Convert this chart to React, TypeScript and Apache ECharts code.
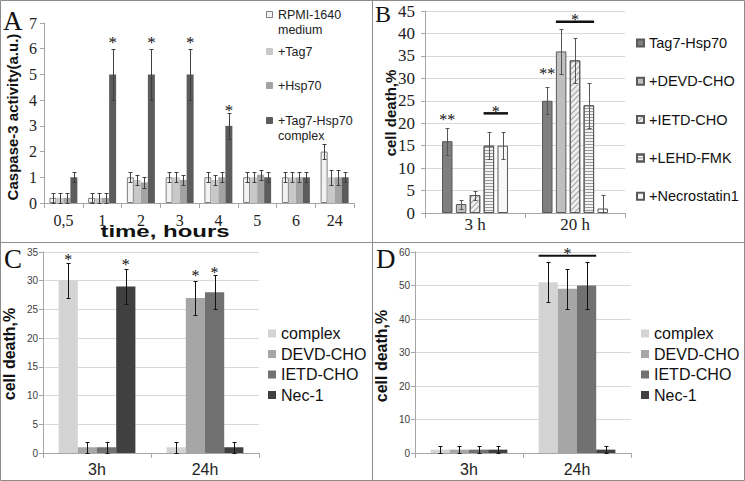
import React, { useEffect, useRef } from "react";
import * as echarts from "echarts";

const SERIF = "'Liberation Serif', 'Times New Roman', serif";
const SANS = "'Liberation Sans', Arial, sans-serif";

// ---------- Panel A ----------
const aCategories = ["0,5", "1", "2", "3", "4", "5", "6", "24"];
const aNames = ["RPMI-1640 medium", "+Tag7", "+Hsp70", "+Tag7-Hsp70 complex"];
const aLegendLines = [["RPMI-1640", "medium"], ["+Tag7"], ["+Hsp70"], ["+Tag7-Hsp70", "complex"]];
const aRPMI = [0.2, 0.2, 1, 1, 1, 1, 1, 2];
const aTag7 = [0.2, 0.2, 0.9, 1, 0.9, 1, 1, 1];
const aHsp70 = [0.2, 0.2, 0.8, 0.9, 1, 1.1, 1, 1];
const aComplex = [1, 5, 5, 5, 3, 1, 1, 1];
const aErrRPMI = [0.2, 0.2, 0.2, 0.2, 0.2, 0.2, 0.2, 0.3];
const aErrTag7 = [0.2, 0.2, 0.2, 0.2, 0.2, 0.2, 0.2, 0.3];
const aErrHsp70 = [0.2, 0.2, 0.2, 0.2, 0.2, 0.2, 0.2, 0.3];
const aErrComplex = [0.2, 1, 1, 1, 0.5, 0.2, 0.2, 0.2];
const aMarkCats = [1, 2, 3, 4];
const aMarkSeries = [3, 3, 3, 3];
const aMarkValues = [6.34, 6.34, 6.34, 3.73];
const aMarkTexts = ["*", "*", "*", "*"];

// ---------- Panel B ----------
const bCategories = ["3 h", "20 h"];
const bNames = ["Tag7-Hsp70", "+DEVD-CHO", "+IETD-CHO", "+LEHD-FMK", "+Necrostatin1"];
const bTag7Hsp70 = [16, 25];
const bDEVD = [2, 36];
const bIETD = [4, 34];
const bLEHD = [15, 24];
const bNecrostatin = [15, 1];
const bErrTag7Hsp70 = [3, 3];
const bErrDEVD = [1, 5];
const bErrIETD = [1, 5];
const bErrLEHD = [3, 5];
const bErrNecrostatin = [3, 3];
const bMarkCats = [0, 0, 1, 1];
const bMarkFrom = [0, 3, 0, 1];
const bMarkTo = [0, 4, 0, 3];
const bMarkValues = [21.4, 22.2, 31.7, 42.6];
const bMarkTexts = ["**", "*", "**", "*"];

// ---------- Panel C ----------
const cdCategories = ["3h", "24h"];
const cdNames = ["complex", "DEVD-CHO", "IETD-CHO", "Nec-1"];
const cComplex = [30, 1];
const cDEVD = [1, 27];
const cIETD = [1, 28];
const cNec1 = [29, 1];
const cErrComplex = [3, 1];
const cErrDEVD = [1, 3];
const cErrIETD = [1, 3];
const cErrNec1 = [3, 1];
const cMarkCats = [0, 0, 1, 1];
const cMarkSeries = [0, 3, 1, 2];
const cMarkValues = [34.25, 33.4, 31.5, 32.0];

// ---------- Panel D ----------
const dComplex = [1, 51];
const dDEVD = [1, 49];
const dIETD = [1, 50];
const dNec1 = [1, 1];
const dErrComplex = [1, 6];
const dErrDEVD = [1, 6];
const dErrIETD = [1, 7];
const dErrNec1 = [1, 1];
const dMarkCats = [1];
const dMarkFrom = [0];
const dMarkTo = [2];
const dMarkValues = [58.9];

// ---------- helpers ----------
function offsetOf(i: number, n: number, barW: number, gap: number) {
  return (i - (n - 1) / 2) * barW * (1 + gap);
}

function errorSeries(values: number[][], errors: number[][], barW: number, gap: number, axis: number, color: string, capW: number) {
  const n = values.length;
  const data: number[][] = [];
  values.forEach((vals, i) =>
    vals.forEach((v, j) => {
      const e = errors[i][j];
      data.push([j, Math.max(0, v - e), v + e, i, v - e < 0 ? 1 : 0]);
    })
  );
  return {
    type: "custom",
    xAxisIndex: axis,
    yAxisIndex: axis,
    silent: true,
    z: 5,
    itemStyle: { color },
    renderItem: (params: any, api: any) => {
      const j = api.value(0);
      const lo = api.value(1);
      const hi = api.value(2);
      const i = api.value(3);
      const clipped = api.value(4);
      const x = Math.round(api.coord([j, 0])[0] + offsetOf(i, n, barW, gap)) + 0.5;
      const y1 = Math.round(api.coord([j, lo])[1]) + 0.5;
      const y2 = Math.round(api.coord([j, hi])[1]) + 0.5;
      const style = { stroke: color, lineWidth: 1 };
      const children: any[] = [
        { type: "line", shape: { x1: x, y1, x2: x, y2 }, style },
        { type: "line", shape: { x1: x - capW / 2, y1: y2, x2: x + capW / 2, y2 }, style },
      ];
      if (!clipped) children.push({ type: "line", shape: { x1: x - capW / 2, y1, x2: x + capW / 2, y2: y1 }, style });
      return { type: "group", children };
    },
    data,
  };
}

function markSeries(cats: number[], from: number[], to: number[], vals: number[], texts: string[], n: number, barW: number, gap: number, axis: number, fontSize: number, lineW: number) {
  const data = cats.map((c, k) => [c, vals[k], from[k], to[k]]);
  return {
    type: "custom",
    xAxisIndex: axis,
    yAxisIndex: axis,
    silent: true,
    z: 6,
    itemStyle: { color: "#111111" },
    renderItem: (params: any, api: any) => {
      const k = params.dataIndex;
      const j = api.value(0);
      const v = api.value(1);
      const f = api.value(2);
      const t = api.value(3);
      const p = api.coord([j, v]);
      const xf = p[0] + offsetOf(f, n, barW, gap);
      const xt = p[0] + offsetOf(t, n, barW, gap);
      const textStyle = { text: texts[k], fontFamily: SERIF, fontSize, fill: "#111111", align: "center", verticalAlign: "middle" };
      if (f === t) {
        return { type: "text", x: xf, y: p[1] + 3, style: textStyle };
      }
      return {
        type: "group",
        children: [
          { type: "line", shape: { x1: xf - barW / 2, y1: p[1], x2: xt + barW / 2, y2: p[1] }, style: { stroke: "#111111", lineWidth: lineW } },
          { type: "text", x: (xf + xt) / 2, y: p[1] - 2, style: textStyle },
        ],
      };
    },
    data,
  };
}

const A_BW = 7, A_GAP = 0;
const B_BW = 10.5, B_GAP = 0.32;
const C_BW = 19.2, C_GAP = 0;

const aColors = ["#f2f2f2", "#c8c8c8", "#a3a3a3", "#5c5c5c"];
const bColors = ["#7f7f7f", "#bfbfbf", "#eeeeee", "#f2f2f2", "#f7f7f7"];
const cdColors = ["#d4d4d4", "#a6a6a6", "#717171", "#404040"];

export default function App() {
  const ref = useRef<HTMLDivElement>(null);
  useEffect(() => {
    if (!ref.current) return;
    const chart = echarts.init(ref.current, undefined, { renderer: "svg" });

    const aValues = [aRPMI, aTag7, aHsp70, aComplex];
    const aErrors = [aErrRPMI, aErrTag7, aErrHsp70, aErrComplex];
    const bValues = [bTag7Hsp70, bDEVD, bIETD, bLEHD, bNecrostatin];
    const bErrors = [bErrTag7Hsp70, bErrDEVD, bErrIETD, bErrLEHD, bErrNecrostatin];
    const cValues = [cComplex, cDEVD, cIETD, cNec1];
    const cErrors = [cErrComplex, cErrDEVD, cErrIETD, cErrNec1];
    const dValues = [dComplex, dDEVD, dIETD, dNec1];
    const dErrors = [dErrComplex, dErrDEVD, dErrIETD, dErrNec1];

    const bDecals: any[] = [
      undefined,
      undefined,
      { symbol: "rect", symbolSize: 1, color: "#a0a0a0", dashArrayX: [1, 0], dashArrayY: [1, 3], rotation: -Math.PI / 4 },
      { symbol: "rect", symbolSize: 1, color: "#9a9a9a", dashArrayX: [1, 0], dashArrayY: [1, 2], rotation: 0 },
      undefined,
    ];

    const series: any[] = [];
    aValues.forEach((vals, i) =>
      series.push({
        type: "bar", name: aNames[i], xAxisIndex: 0, yAxisIndex: 0, data: vals,
        barWidth: A_BW, barGap: "0%",
        itemStyle: { color: aColors[i], borderColor: i === 0 ? "#7f7f7f" : aColors[i], borderWidth: i === 0 ? 1 : 0 },
      })
    );
    bValues.forEach((vals, i) =>
      series.push({
        type: "bar", name: bNames[i], xAxisIndex: 1, yAxisIndex: 1, data: vals,
        barWidth: B_BW, barGap: "32%",
        itemStyle: { color: bColors[i], borderColor: "#595959", borderWidth: 1, decal: bDecals[i] },
      })
    );
    cValues.forEach((vals, i) =>
      series.push({
        type: "bar", name: cdNames[i], xAxisIndex: 2, yAxisIndex: 2, data: vals,
        barWidth: C_BW, barGap: "0%", itemStyle: { color: cdColors[i] },
      })
    );
    dValues.forEach((vals, i) =>
      series.push({
        type: "bar", name: cdNames[i], xAxisIndex: 3, yAxisIndex: 3, data: vals,
        barWidth: C_BW, barGap: "0%", itemStyle: { color: cdColors[i] },
      })
    );
    series.push(errorSeries(aValues, aErrors, A_BW, A_GAP, 0, "#404040", 4));
    series.push(errorSeries(bValues, bErrors, B_BW, B_GAP, 1, "#555555", 4));
    series.push(errorSeries(cValues, cErrors, C_BW, C_GAP, 2, "#111111", 4));
    series.push(errorSeries(dValues, dErrors, C_BW, C_GAP, 3, "#111111", 4));
    series.push(markSeries(aMarkCats, aMarkSeries, aMarkSeries, aMarkValues, aMarkTexts, 4, A_BW, A_GAP, 0, 17, 2));
    series.push(markSeries(bMarkCats, bMarkFrom, bMarkTo, bMarkValues, bMarkTexts, 5, B_BW, B_GAP, 1, 16, 2.5));
    series.push(markSeries(cMarkCats, cMarkSeries, cMarkSeries, cMarkValues, cMarkCats.map(() => "*"), 4, C_BW, C_GAP, 2, 16, 2));
    series.push(markSeries(dMarkCats, dMarkFrom, dMarkTo, dMarkValues, ["*"], 4, C_BW, C_GAP, 3, 16, 2));

    const axisLine = { show: true, lineStyle: { color: "#a6a6a6" } };
    const xAxisBase = (data: string[], idx: number, font: string, size: number, margin: number) => ({
      type: "category", gridIndex: idx, data,
      axisLine, axisTick: { show: true, length: 5, lineStyle: { color: "#a6a6a6" } },
      axisLabel: { fontFamily: font, fontSize: size, color: "#222", margin },
      splitLine: { show: false },
    });
    const yAxisBase = (idx: number, max: number, interval: number, font: string, size: number, margin: number, grid: boolean) => ({
      type: "value", gridIndex: idx, min: 0, max, interval,
      axisLine, axisTick: { show: true, length: 4, lineStyle: { color: "#a6a6a6" } },
      axisLabel: { fontFamily: font, fontSize: size, color: font === SANS ? "#404040" : "#222", margin },
      splitLine: { show: grid, lineStyle: { color: "#d9d9d9" } },
    });

    const aLegendGraphics: any[] = [];
    const aLegendY = [15, 52, 86, 121];
    aLegendLines.forEach((lines, i) => {
      aLegendGraphics.push({
        type: "rect", shape: { x: 266.5, y: aLegendY[i] - 3.5, width: 6, height: 6 },
        style: { fill: aColors[i], stroke: i === 0 ? "#7f7f7f" : aColors[i], lineWidth: 1 },
      });
      lines.forEach((t, k) =>
        aLegendGraphics.push({
          type: "text", x: 278, y: aLegendY[i] + k * 15,
          style: { text: t, fontFamily: SANS, fontSize: 12.5, fill: "#222", align: "left", verticalAlign: "middle" },
        })
      );
    });

    const titleText = (text: string, x: number, y: number, size: number, rot: number, scaleX = 1) => ({
      type: "text", x, y, rotation: rot, scaleX,
      style: { text, fontFamily: SANS, fontWeight: "bold", fontSize: size, fill: "#111", align: "center", verticalAlign: "middle" },
    });
    const letter = (text: string, x: number, y: number, size: number) => ({
      type: "text", x, y,
      style: { text, fontFamily: SERIF, fontSize: size, fill: "#111", align: "left", verticalAlign: "middle" },
    });

    const legendBase = {
      orient: "vertical", icon: "rect", selectedMode: false, padding: 0,
    };

    chart.setOption({
      animation: false,
      backgroundColor: "#ffffff",
      grid: [
        { left: 44, top: 23, width: 310, height: 180 },
        { left: 425, top: 11, width: 200, height: 202 },
        { left: 43, top: 252, width: 216, height: 201 },
        { left: 415, top: 252, width: 216, height: 201 },
      ],
      xAxis: [
        xAxisBase(aCategories, 0, SERIF, 16, 9),
        xAxisBase(bCategories, 1, SERIF, 17, 3),
        xAxisBase(cdCategories, 2, SANS, 16, 8),
        xAxisBase(cdCategories, 3, SANS, 16, 8),
      ],
      yAxis: [
        yAxisBase(0, 7, 1, SERIF, 16, 7, false),
        yAxisBase(1, 45, 5, SERIF, 17, 10, true),
        yAxisBase(2, 35, 5, SANS, 10, 5, true),
        yAxisBase(3, 60, 10, SANS, 10, 5, true),
      ],
      legend: [
        {
          ...legendBase, data: bNames, left: 636, top: 35, itemWidth: 7, itemHeight: 7, itemGap: 22.3,
          textStyle: { fontFamily: SANS, fontSize: 14.5, color: "#111", lineHeight: 16 },
        },
        {
          ...legendBase, data: cdNames, left: 268, top: 325.5, itemWidth: 8, itemHeight: 8, itemGap: 4.5,
          textStyle: { fontFamily: SANS, fontSize: 16, color: "#111", lineHeight: 16 },
        },
        {
          ...legendBase, data: cdNames, left: 641, top: 325.5, itemWidth: 8, itemHeight: 8, itemGap: 4.5,
          textStyle: { fontFamily: SANS, fontSize: 16, color: "#111", lineHeight: 16 },
        },
      ],
      graphic: [
        { type: "rect", shape: { x: 0.5, y: 0.5, width: 744, height: 480 }, style: { fill: "none", stroke: "#8c8c8c", lineWidth: 1 }, silent: true },
        { type: "line", shape: { x1: 372.5, y1: 0, x2: 372.5, y2: 481 }, style: { stroke: "#8c8c8c", lineWidth: 1 } },
        { type: "line", shape: { x1: 0, y1: 242.5, x2: 745, y2: 242.5 }, style: { stroke: "#8c8c8c", lineWidth: 1 } },
        letter("A", 3, 21, 27),
        letter("B", 375, 13.5, 24),
        letter("C", 4, 259, 27),
        letter("D", 376, 259, 27),
        titleText("Caspase-3 activity(a.u.)", 12, 117, 15, Math.PI / 2),
        titleText("time, hours", 165, 232, 16, 0, 1.5),
        titleText("cell death,%", 390, 113, 15, Math.PI / 2),
        titleText("cell death,%", 9, 354, 16, Math.PI / 2),
        titleText("cell death,%", 381, 356, 16, Math.PI / 2),
        ...aLegendGraphics,
      ],
      series,
    });
    return () => chart.dispose();
  }, []);
  return <div ref={ref} style={{ position: "fixed", left: 0, top: 0, width: 745, height: 481 }} />;
}
